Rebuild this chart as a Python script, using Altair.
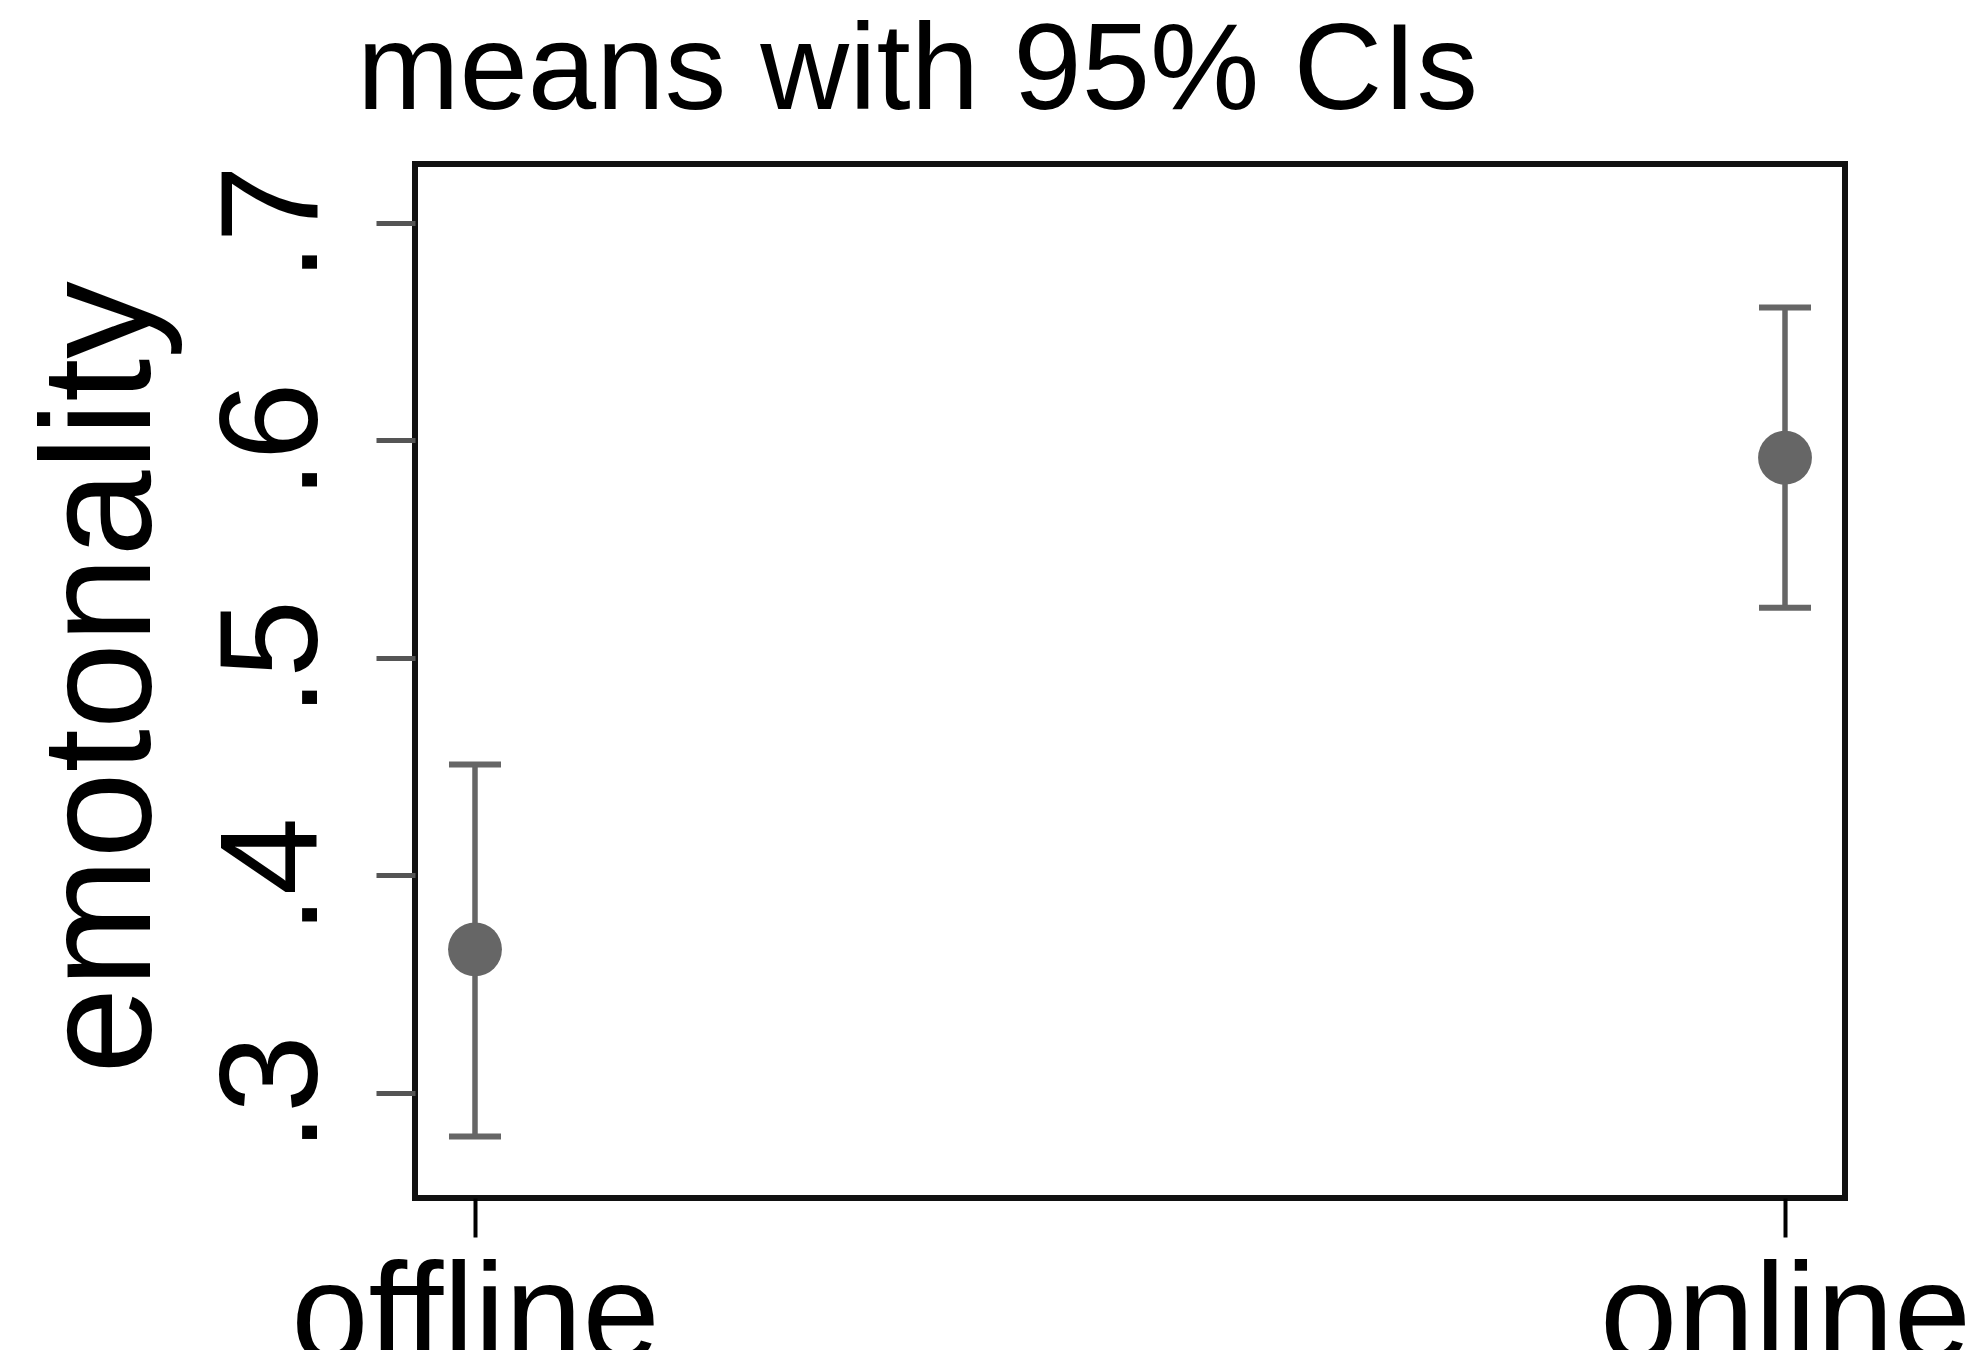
import altair as alt
import pandas as pd

groups = ["offline", "online"]
means = [0.366, 0.592]
ci_low = [0.280, 0.523]
ci_high = [0.451, 0.661]
y_ticks = [0.3, 0.4, 0.5, 0.6, 0.7]

df = pd.DataFrame({"group": groups, "mean": means, "lo": ci_low, "hi": ci_high})

FONT = "Liberation Sans"
GRAY = "#666666"

x_enc = alt.X(
    "group:N",
    sort=groups,
    scale=alt.Scale(type="point", padding=0.0458),
    axis=alt.Axis(
        title=None, labelAngle=0, labelFont=FONT, labelFontSize=139, labelColor="black",
        labelBaseline="alphabetic", labelPadding=122, labelLimit=0, tickSize=39, tickWidth=4,
        tickColor="black", domain=False, grid=False,
    ),
)

y_scale = alt.Scale(domain=[0.2517, 0.727], nice=False, zero=False)
y_axis = alt.Axis(
    title="emotonality", values=y_ticks,
    labelExpr="substring(format(datum.value, '.1f'), 1)",
    labelAngle=270, labelAlign="center", labelBaseline="alphabetic", labelPadding=60,
    labelFont=FONT, labelFontSize=140, labelColor="black", labelLimit=0,
    tickSize=39, tickWidth=5, tickColor="#555555", domain=False, grid=False,
    titleFont=FONT, titleFontSize=155, titleFontWeight="normal", titleColor="black",
    titleAngle=270, titleAlign="center", titleBaseline="alphabetic",
    titleX=-266, titleY=513, titleLimit=0,
)

base = alt.Chart(df)

rules = base.mark_rule(color=GRAY, strokeWidth=5.5).encode(
    x=x_enc,
    y=alt.Y("lo:Q", scale=y_scale, axis=y_axis),
    y2="hi:Q",
)
caps_lo = base.mark_tick(color=GRAY, size=52, thickness=6, orient="horizontal", opacity=1).encode(
    x=x_enc, y=alt.Y("lo:Q", scale=y_scale)
)
caps_hi = base.mark_tick(color=GRAY, size=52, thickness=6, orient="horizontal", opacity=1).encode(
    x=x_enc, y=alt.Y("hi:Q", scale=y_scale)
)
points = base.mark_circle(color=GRAY, size=2900, opacity=1).encode(
    x=x_enc, y=alt.Y("mean:Q", scale=y_scale)
)

chart = (
    alt.layer(rules, caps_lo, caps_hi, points)
    .properties(
        width=1430,
        height=1034,
        padding={"left": 407, "top": 156, "right": 120, "bottom": 152},
        autosize=alt.AutoSizeParams(type="none"),
        background="white",
        title=alt.Title(
            "means with 95% CIs", anchor="start", frame="group", dx=-58, dy=120, offset=52,
            baseline="alphabetic", fontSize=123, font=FONT, fontWeight="normal", color="black",
            limit=0,
        ),
    )
    .configure_view(stroke="#111111", strokeWidth=6)
)

chart.save("out.html", embed_options={"renderer": "svg", "actions": False})
